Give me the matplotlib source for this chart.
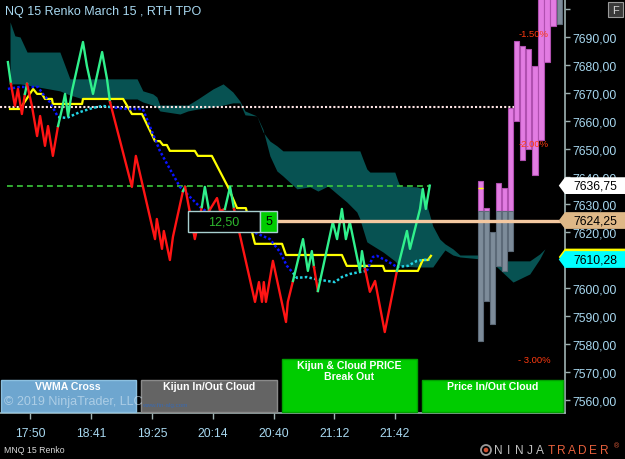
import matplotlib
matplotlib.use("Agg")
import matplotlib.pyplot as plt
from matplotlib.patches import Rectangle, Polygon, Circle
from matplotlib.transforms import blended_transform_factory

plt.rcParams['font.family'] = ['Liberation Sans', 'DejaVu Sans']

# ---- data (bar index, price) ----
time_ticks = [10, 30, 50, 70, 90, 110, 130]
time_labels = ["17:50", "18:41", "19:25", "20:14", "20:40", "21:12", "21:42"]
price_ticks = [7560, 7570, 7580, 7590, 7600, 7610, 7620, 7630, 7640, 7650,
               7660, 7670, 7680, 7690, 7700]
hidden_ticks = [7610, 7700]  # covered by the price tag / F button

# renko close line, trend 1 = up (green), 0 = down (red) for segment ending at point
price_x = [2.6, 3.6, 4.9, 5.9, 7.2, 8.2, 8.9, 10.5, 12.2, 13.2, 14.8, 15.8, 17.4, 19.1,
           20.4, 21.4, 22.4, 23.7, 27.3, 28.6, 30.6, 33.6, 35.2, 36.2, 43.4, 44.7, 51.0,
           51.6, 53.3, 53.9, 55.9, 56.9, 60.2, 60.9, 64.1, 66.4, 67.4, 68.8, 71.4, 72.4,
           74.0, 75.7, 77.0, 83.9, 85.2, 86.2, 86.8, 87.5, 89.8, 94.1, 94.7, 96.4, 99.7,
           101.3, 102.6, 103.3, 104.6, 109.5, 110.9, 112.5, 113.8, 115.1, 118.4, 119.1,
           120.1, 121.7, 123.4, 126.6, 130.6, 133.9, 134.9, 138.2, 139.1, 140.1, 141.4]
price_y = [7681.0, 7673.2, 7665.3, 7671.4, 7662.4, 7669.6, 7673.2, 7665.3, 7654.5, 7661.7,
           7651.0, 7658.1, 7647.4, 7658.1, 7664.2, 7669.6, 7661.7, 7670.7, 7688.2, 7679.6,
           7669.6, 7684.6, 7675.0, 7666.7, 7636.3, 7647.4, 7617.6, 7624.8, 7614.1, 7620.5,
           7610.1, 7618.4, 7634.8, 7636.3, 7617.6, 7629.1, 7636.3, 7627.7, 7632.3, 7627.7,
           7628.4, 7636.3, 7628.4, 7595.1, 7602.2, 7595.1, 7602.2, 7595.1, 7609.8, 7587.9,
           7595.1, 7602.6, 7617.6, 7606.2, 7613.3, 7607.6, 7599.0, 7623.7, 7617.6, 7628.4,
           7617.6, 7623.7, 7606.2, 7613.3, 7606.9, 7598.7, 7602.6, 7584.3, 7606.2, 7620.5,
           7614.1, 7628.4, 7635.6, 7628.4, 7636.75]
price_trend = [1, 1, 0, 0, 0, 0, 1, 0, 0, 0, 0, 0, 0, 0, 1, 1, 1, 1, 1, 1, 1, 1, 1, 1,
               0, 0, 0, 0, 0, 0, 0, 0, 0, 1, 0, 0, 1, 1, 0, 0, 0, 1, 1, 0, 0, 0, 0, 0,
               0, 0, 0, 0, 1, 1, 1, 1, 0, 1, 1, 1, 1, 1, 1, 1, 1, 0, 0, 0, 0, 1, 1, 1,
               1, 1, 1]

kijun_x = [3.3, 6.6, 10.9, 12.2, 13.8, 14.8, 17.1, 17.4, 27.0, 27.3, 40.5, 43.4, 46.7,
           51.0, 52.6, 53.6, 54.9, 55.9, 64.1, 65.1, 69.7, 75.0, 78.0, 80.9, 83.9, 92.8,
           94.1, 112.5, 114.1, 126.0, 126.6, 137.5, 139.1, 140.8, 141.8]
kijun_y = [7664.2, 7664.2, 7671.4, 7669.6, 7669.6, 7667.8, 7667.8, 7666.0, 7666.0, 7667.8,
           7667.8, 7662.4, 7662.4, 7652.7, 7652.7, 7651.3, 7651.3, 7649.2, 7649.2, 7647.4,
           7647.4, 7636.3, 7628.7, 7628.7, 7615.9, 7615.9, 7611.9, 7611.9, 7608.0, 7608.0,
           7606.2, 7606.2, 7610.1, 7610.1, 7611.6]

# vwma, 1 = cyan, 0 = blue
vwma_x = [2.6, 6.6, 12.5, 14.1, 16.4, 19.1, 22.0, 26.3, 30.6, 33.9, 36.2, 41.8, 47.0, 48.7,
          51.0, 52.6, 55.9, 59.2, 62.5, 65.8, 70.7, 78.9, 83.2, 88.8, 92.1, 94.4, 96.4,
          97.7, 101.0, 103.6, 107.6, 110.2, 112.5, 115.1, 118.4, 120.7, 122.7, 124.0,
          127.3, 130.6, 134.2, 137.2, 139.1, 141.4]
vwma_y = [7671.4, 7672.1, 7672.1, 7669.6, 7666.7, 7661.3, 7661.0, 7663.1, 7664.6, 7665.3,
          7664.9, 7664.2, 7664.2, 7659.6, 7653.5, 7649.2, 7642.7, 7636.3, 7632.7, 7629.1,
          7625.5, 7621.9, 7620.2, 7617.6, 7613.0, 7608.0, 7605.5, 7603.7, 7604.0, 7603.3,
          7602.6, 7602.2, 7604.0, 7605.1, 7605.8, 7606.2, 7611.2, 7611.6, 7609.8, 7607.6,
          7608.0, 7609.8, 7610.1, 7610.28]
vwma_trend = [1, 0, 0, 0, 0, 0, 1, 1, 1, 1, 1, 0, 0, 0, 0, 0, 0, 0, 0, 0, 0, 0, 0, 0,
              0, 0, 0, 1, 1, 1, 1, 1, 1, 1, 1, 1, 0, 0, 0, 0, 1, 1, 1, 1]

cloud_x = [3.3, 4.9, 6.6, 8.9, 19.7, 23.0, 27.3, 45.1, 47.0, 50.3, 51.6, 52.6, 59.2, 61.8,
           65.1, 70.1, 73.4, 76.6, 78.9, 80.6, 84.5, 86.5, 88.8, 91.1, 93.1, 97.7, 102.0,
           104.6, 107.9, 110.9, 114.1, 117.4, 118.4, 119.4, 120.7, 121.7, 126.0, 129.9,
           130.9, 131.6, 137.2, 139.1, 140.5, 142.4, 144.7, 146.4, 149.0, 151.3, 157.9,
           163.5, 168.8, 174.3, 177.6, 179.3]
cloud_a = [7695.4, 7690.4, 7690.0, 7684.6, 7684.6, 7675.0, 7675.0, 7675.0, 7670.7, 7669.6,
           7668.5, 7665.6, 7665.6, 7665.6, 7667.8, 7671.4, 7673.2, 7670.3, 7667.1, 7663.5,
           7661.7, 7656.0, 7652.7, 7651.0, 7649.2, 7649.2, 7649.2, 7649.2, 7649.2, 7649.2,
           7649.2, 7649.2, 7649.2, 7646.3, 7642.7, 7641.6, 7641.6, 7641.6, 7638.4, 7636.6,
           7636.3, 7635.6, 7629.5, 7622.3, 7617.6, 7615.9, 7614.1, 7611.9, 7611.9, 7609.8,
           7609.8, 7609.8, 7612.3, 7614.1]
cloud_b = [7673.2, 7673.2, 7673.2, 7672.8, 7670.7, 7669.2, 7667.8, 7667.8, 7666.7, 7665.6,
           7664.9, 7663.5, 7662.4, 7663.5, 7664.2, 7664.9, 7665.6, 7666.4, 7666.4, 7662.1,
           7661.7, 7657.0, 7647.4, 7642.0, 7640.2, 7635.6, 7636.3, 7634.8, 7636.6, 7633.8,
           7630.9, 7627.3, 7624.8, 7621.2, 7616.6, 7615.9, 7613.0, 7609.8, 7608.7, 7608.0,
           7607.6, 7607.6, 7607.6, 7607.6, 7611.2, 7613.7, 7611.9, 7611.2, 7610.5, 7607.6,
           7602.2, 7605.1, 7610.5, 7614.1]

# profile bars on the right
pink_x = [158, 160, 164, 166, 168, 170, 172, 174, 176, 178, 180, 182]
pink_lo = [7627.7, 7627.7, 7627.7, 7627.7, 7627.7, 7659.9, 7645.9, 7649.9, 7640.6, 7653.1,
           7681.0, 7694.0]
pink_hi = [7638.4, 7628.7, 7637.7, 7635.9, 7664.6, 7688.6, 7686.8, 7685.7, 7679.6, 7712.0,
           7712.0, 7712.0]
gray_x = [158, 160, 162, 164, 166, 168, 184]
gray_lo = [7581.1, 7595.4, 7587.2, 7608.0, 7606.2, 7613.3, 7694.7]
gray_hi = [7627.7, 7627.7, 7620.2, 7627.7, 7627.7, 7627.7, 7712.0]

pct_labels = ["-1.50%", "-2.00%", "- 3.00%"]
pct_prices = [7691.1, 7651.7, 7574.3]

tpo_level = 7664.9
last_price = 7636.75
draw_level = 7624.25
vwma_last = 7610.28


def runs(xs, ys, flags):
    out = []
    s = 0
    for i in range(1, len(xs)):
        if i == len(xs) - 1 or flags[i + 1] != flags[i]:
            out.append((xs[s:i + 1], ys[s:i + 1], flags[i]))
            s = i
    return out


fig = plt.figure(figsize=(6.25, 4.6), dpi=100, facecolor='black')
ax = fig.add_axes([0, 46 / 460, 565 / 625, 414 / 460])
ax.set_facecolor('black')
ax.set_xlim(0, 185.9)
ax.set_ylim(7555.3, 7703.6)

ax.fill_between(cloud_x, cloud_a, cloud_b, color='#075252', lw=0, zorder=1)

ax.hlines(tpo_level, 0, 170, color='#ffe4e4', lw=1.5, linestyles=(0, (1, 1)), zorder=2)
ax.hlines(last_price, 2.3, 141.5, color='#3ccc3c', lw=1.2, linestyles=(0, (3.5, 2.5)), zorder=2)

ax.bar(pink_x, [h - l for h, l in zip(pink_hi, pink_lo)], bottom=pink_lo, width=1.75,
       color='#e27ce2', edgecolor='#b050b0', lw=0.8, zorder=3)
ax.bar(gray_x, [h - l for h, l in zip(gray_hi, gray_lo)], bottom=gray_lo, width=1.75,
       color='#7d8c9a', edgecolor='#5c6a78', lw=0.8, zorder=3)
ax.hlines(7636.0, 157.2, 158.8, color='#ffff00', lw=1, zorder=3.5)

ax.plot(kijun_x, kijun_y, color='#ffff00', lw=1.6, zorder=4)

for xs, ys, f in runs(vwma_x, vwma_y, vwma_trend):
    ax.plot(xs, ys, color='#22d4e4' if f else '#0a14ff', lw=1.8,
            linestyle=(0, (1, 0.9)), zorder=4.5)

for xs, ys, f in runs(price_x, price_y, price_trend):
    ax.plot(xs, ys, color='#30f08c' if f else '#ff1414', lw=1.7, zorder=5)

ax.hlines(draw_level, 90.5, 185.9, color='#f4c8a0', lw=2.4, zorder=6)

for t, p in zip(pct_labels, pct_prices):
    ax.text(175.7, p, t, color='#ff3a10', fontsize=6.8, ha='center', va='center', zorder=7)

# axes styling
for s in ['left', 'top']:
    ax.spines[s].set_visible(False)
for s in ['right', 'bottom']:
    ax.spines[s].set_color('#9fb3b3')
    ax.spines[s].set_linewidth(1.2)
ax.yaxis.tick_right()
ax.set_yticks(price_ticks)
ax.set_yticklabels(["" if v in hidden_ticks else f"{v},00" for v in price_ticks])
ax.set_xticks(time_ticks)
ax.set_xticklabels(time_labels)
ax.tick_params(axis='y', colors='#9fb3b3', labelcolor='#a8d8f0', length=3.6, width=1,
               pad=2, labelsize=8.8)
ax.tick_params(axis='x', colors='#9fb3b3', labelcolor='#a8d8f0', length=4.3, width=1,
               pad=6, labelsize=8.7)

# price tags on the right axis
trans = blended_transform_factory(ax.transAxes, ax.transData)


def tag(v, face, h=3.0):
    pts = [(0.989, v), (1.0, v + h), (1.11, v + h), (1.11, v - h), (1.0, v - h)]
    ax.add_patch(Polygon(pts, closed=True, transform=trans, facecolor=face,
                         edgecolor='none', clip_on=False, zorder=8))


tag(last_price, 'white')
tag(draw_level, '#deb887')
tag(vwma_last + 0.9, '#ffff00')
tag(vwma_last, '#00ffff')
for v in [last_price, draw_level, vwma_last]:
    ax.text(1.053, v, f"{v:.2f}".replace('.', ','), transform=trans, ha='center',
            va='center', fontsize=8.8, color='black', clip_on=False, zorder=9)

# overlay in pixel coordinates for chart decorations
ov = fig.add_axes([0, 0, 1, 1], zorder=10)
ov.set_xlim(0, 625)
ov.set_ylim(460, 0)
ov.axis('off')
ov.patch.set_alpha(0)

ov.text(5, 12, "NQ 15 Renko March 15 , RTH TPO", color='#a8d8f0', fontsize=9,
        ha='left', va='center')
ov.add_patch(Rectangle((608, 3), 15, 15, facecolor='#3a3a3a', edgecolor='#9a9a9a', lw=0.8))
ov.text(615.5, 10.8, "F", color='#d8d8d8', fontsize=8, ha='center', va='center')

# measure box
ov.add_patch(Rectangle((188, 211.5), 72, 21, facecolor='black', edgecolor='#a8d0d0', lw=1))
ov.add_patch(Rectangle((260, 211.5), 17, 21, facecolor='#00cc00', edgecolor='#a8d0d0', lw=1))
ov.text(224, 222.5, "12,50", color='#2eb82e', fontsize=9, ha='center', va='center')
ov.text(268.5, 222.5, "5", color='black', fontsize=9, ha='center', va='center')

# signal panels
panels = [
    (0.5, 381, 135.5, 32, '#6ea6cf', '#8cc0e0', ["VWMA Cross"]),
    (141, 381, 136, 32, '#646464', '#8a8a8a', ["Kijun In/Out Cloud"]),
    (282, 360, 135, 53, '#00cc00', '#00a000', ["Kijun & Cloud PRICE", "Break Out"]),
    (422, 381, 141, 32, '#00cc00', '#00a000', ["Price In/Out Cloud"]),
]
for x0, y0, w, h, face, edge, lines in panels:
    ov.add_patch(Rectangle((x0, y0), w, h, facecolor=face, edgecolor=edge, lw=1))
    for k, line in enumerate(lines):
        ov.text(x0 + w / 2, y0 + 6 + k * 11, line, color='white', fontsize=7.6,
                fontweight='bold', ha='center', va='center')

ov.text(4, 402.5, "\u00a9 2019 NinjaTrader, LLC", color='#d6e8f5', alpha=0.6, fontsize=9,
        ha='left', va='center')
ov.text(142, 405.5, "www.fin-alg.com", color='#3a6ab0', fontsize=4.5, ha='left', va='center')
ov.text(4, 451, "MNQ 15 Renko", color='#d8d8d8', fontsize=6.3, ha='left', va='center')

# logo
ov.add_patch(Circle((486, 451), 5, facecolor='none', edgecolor='#9a9a9a', lw=1.3))
ov.add_patch(Circle((486, 451), 2.3, facecolor='#d05030', edgecolor='none'))
for i, ch in enumerate("NINJATRADER"):
    ov.text(498 + i * 10.6, 451.5, ch, color='#c0c0c0' if i < 5 else '#e8603c',
            fontsize=8.6, ha='center', va='center')
ov.text(616, 447, "\u00ae", color='#e8603c', fontsize=5, ha='center', va='center')

fig.savefig('out.png', dpi=100, facecolor='black')
